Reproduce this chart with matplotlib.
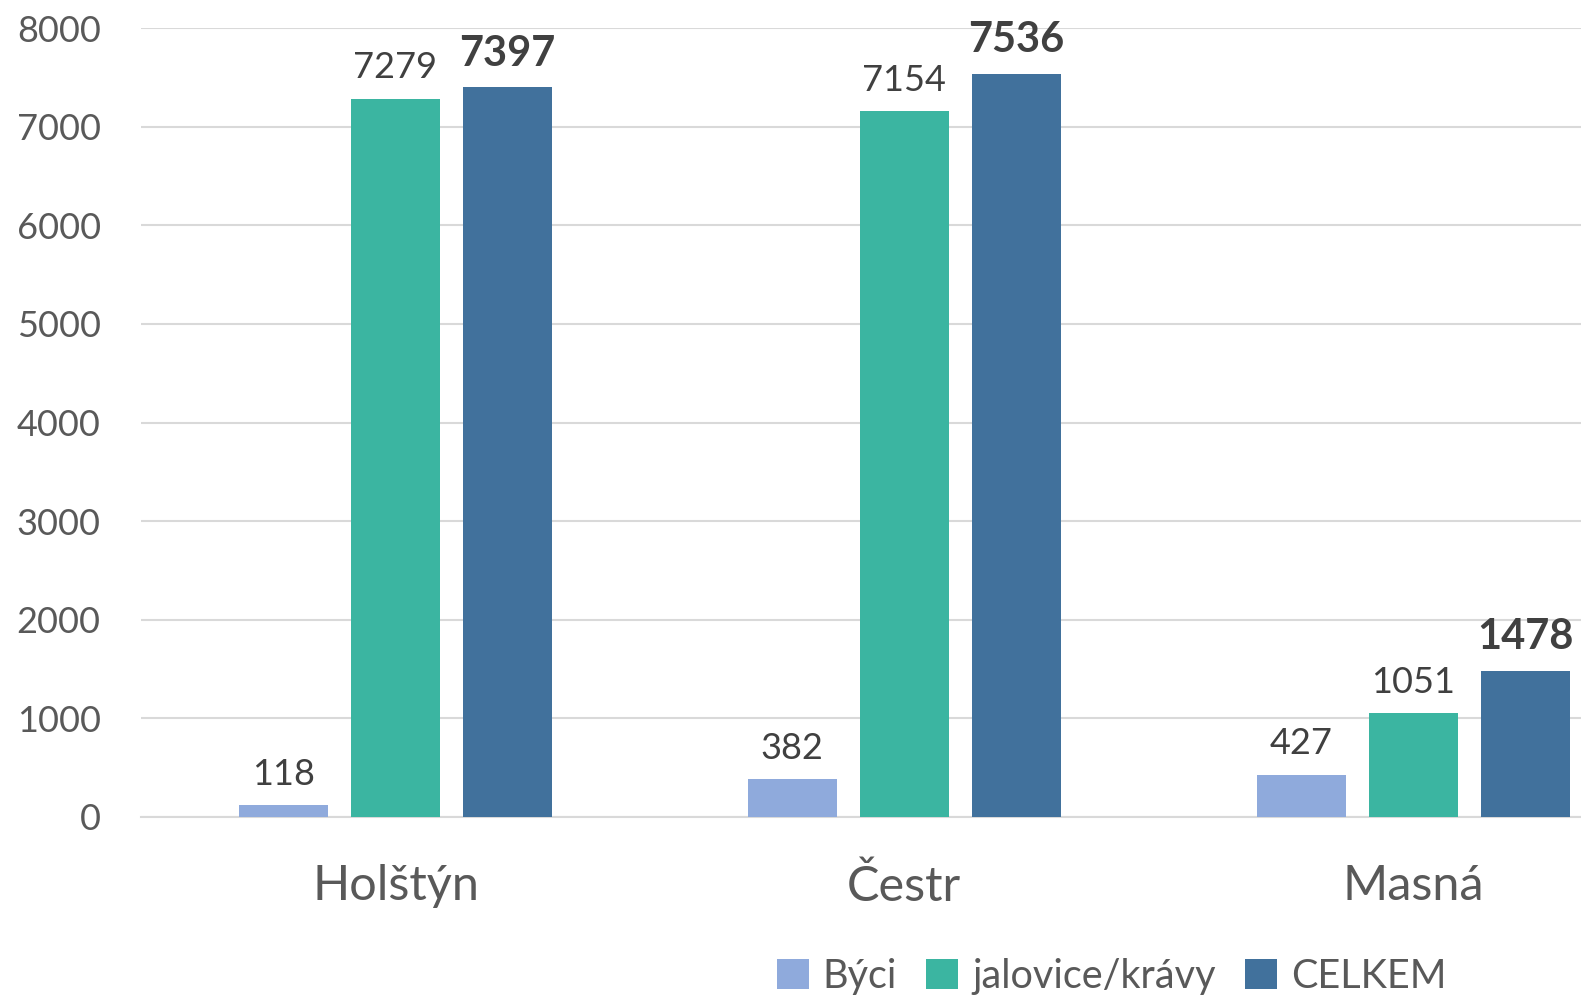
import numpy as np
import matplotlib.pyplot as plt

plt.rcParams['font.family'] = ['Lato', 'DejaVu Sans']

categories = ['Holštýn', 'Čestr', 'Masná']
byci = [118, 382, 427]
jalovice = [7279, 7154, 1051]
celkem = [7397, 7536, 1478]
series_names = ['Býci', 'jalovice/krávy', 'CELKEM']
colors = ['#8FAADC', '#3BB5A1', '#41719C']

fig = plt.figure(figsize=(15.81, 10), dpi=100)
ax = fig.add_axes([0.0892, 0.183, 0.9108, 0.789])

x = np.arange(len(categories))
w = 0.175
step = 0.22
all_series = [byci, jalovice, celkem]
for i, (vals, name, col) in enumerate(zip(all_series, series_names, colors)):
    bars = ax.bar(x + (i - 1) * step, vals, w, color=col, label=name, zorder=3)
    bold = name == 'CELKEM'
    for b, v in zip(bars, vals):
        ax.text(b.get_x() + b.get_width() / 2, v + 150, str(v), ha='center', va='bottom',
                fontsize=30 if bold else 26, fontweight='bold' if bold else 'normal',
                color='#404040')

ax.set_ylim(0, 8000)
ax.set_xlim(-0.5, 2.33)
ax.set_yticks(range(0, 8001, 1000))
ax.yaxis.grid(True, color='#D9D9D9', linewidth=1.5, zorder=0)
for s in ['top', 'right', 'left']:
    ax.spines[s].set_visible(False)
ax.spines['bottom'].set_color('#D9D9D9')
ax.spines['bottom'].set_linewidth(1.5)
ax.tick_params(axis='y', length=0, labelsize=26, labelcolor='#595959', pad=29)
ax.tick_params(axis='x', length=0, labelsize=35, labelcolor='#595959', pad=34)
ax.set_xticks(x)
ax.set_xticklabels(categories)

ax.legend(loc='center', bbox_to_anchor=(0.674, -0.202), ncol=3, frameon=False,
          fontsize=28.5, labelcolor='#595959', handlelength=0.8, handleheight=0.8,
          handletextpad=0.35, columnspacing=0.75)

fig.savefig('out.png', dpi=100)
